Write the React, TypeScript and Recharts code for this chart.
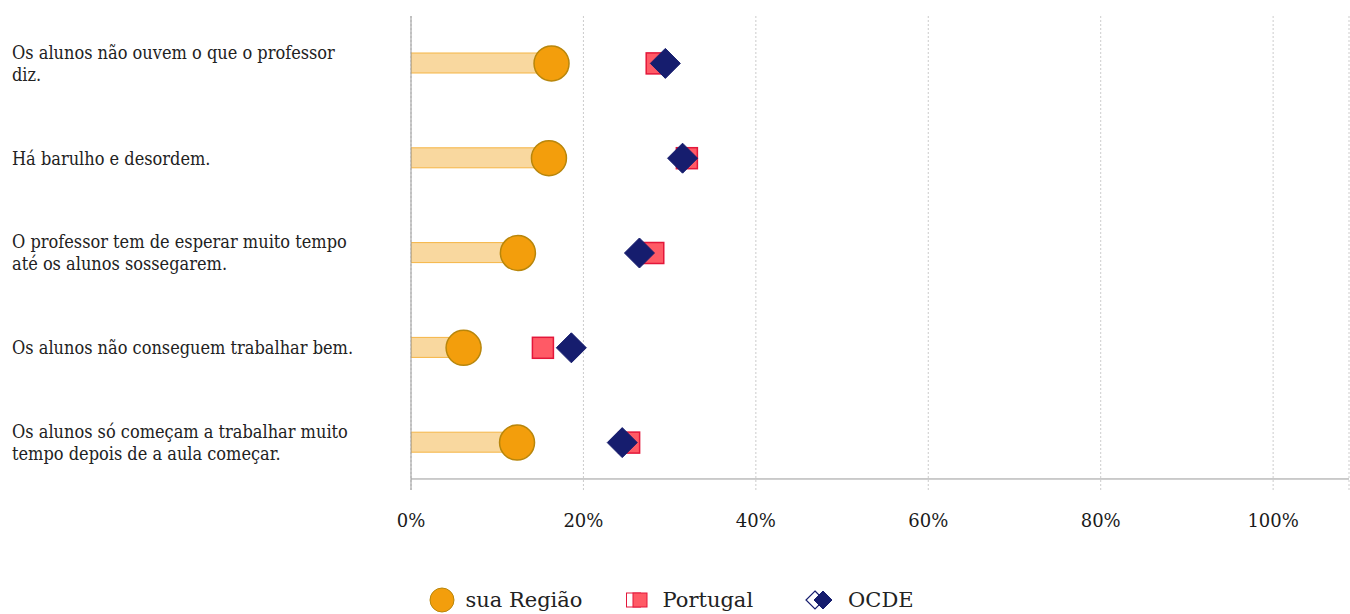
import React from "react";
import {
  ComposedChart,
  Bar,
  Line,
  XAxis,
  YAxis,
  CartesianGrid,
  ReferenceLine,
  Legend,
} from "recharts";

const categories = [
  "Os alunos não ouvem o que o professor\ndiz.",
  "Há barulho e desordem.",
  "O professor tem de esperar muito tempo\naté os alunos sossegarem.",
  "Os alunos não conseguem trabalhar bem.",
  "Os alunos só começam a trabalhar muito\ntempo depois de a aula começar.",
];
const regiao = [16.3, 16.0, 12.4, 6.1, 12.3];
const portugal = [28.5, 32.0, 28.1, 15.3, 25.3];
const ocde = [29.5, 31.5, 26.5, 18.6, 24.5];
const xTicks = [0, 20, 40, 60, 80, 100];
const seriesNames = ["sua Região", "Portugal", "OCDE"];

const data = categories.map((label, i) => ({
  label,
  regiao: regiao[i],
  portugal: portugal[i],
  ocde: ocde[i],
}));

const FONT = "'DejaVu Serif', serif";
const LABEL_FONT = "'DejaVu Serif Condensed', 'DejaVu Serif', serif";
const ORANGE = "#f39e0c";
const ORANGE_STROKE = "#b8860b";
const RED = "#ff5a66";
const RED_STROKE = "#e3173a";
const NAVY = "#161d6e";
const LABEL_X = 12;

const CatTick = (props: any) => {
  const { y, payload } = props;
  const lines = String(payload.value).split("\n");
  const n = lines.length;
  return (
    <text
      x={LABEL_X}
      y={y}
      fill="#222"
      fontSize={18}
      fontFamily={LABEL_FONT}
      style={{ fontStretch: "condensed" }}
      textAnchor="start"
    >
      {lines.map((l, i) => (
        <tspan key={i} x={LABEL_X} y={y + (i - (n - 1) / 2) * 22} dy="0.35em">
          {l}
        </tspan>
      ))}
    </text>
  );
};

const circleDot = (p: any) => (
  <circle
    key={`c-${p.index}`}
    cx={p.cx}
    cy={p.cy}
    r={17.5}
    fill={ORANGE}
    stroke={ORANGE_STROKE}
    strokeWidth={1.5}
  />
);
const squareDot = (p: any) => (
  <rect
    key={`s-${p.index}`}
    x={p.cx - 10.5}
    y={p.cy - 10.5}
    width={21}
    height={21}
    fill={RED}
    stroke={RED_STROKE}
    strokeWidth={1.5}
  />
);
const diamondDot = (p: any) => (
  <polygon
    key={`d-${p.index}`}
    points={`${p.cx},${p.cy - 15} ${p.cx + 15},${p.cy} ${p.cx},${p.cy + 15} ${p.cx - 15},${p.cy}`}
    fill={NAVY}
    stroke={NAVY}
    strokeWidth={1}
  />
);

const LegendContent = () => (
  <div
    style={{
      height: 28,
      display: "flex",
      alignItems: "center",
      justifyContent: "center",
      fontFamily: FONT,
      fontSize: 21,
      color: "#222",
      marginLeft: -6,
    }}
  >
    <svg width={26} height={26} style={{ marginRight: 10 }}>
      <circle cx={13} cy={13} r={12} fill={ORANGE} stroke={ORANGE_STROKE} strokeWidth={1} />
    </svg>
    <span>{seriesNames[0]}</span>
    <svg width={24} height={20} style={{ marginLeft: 42, marginRight: 14 }}>
      <rect x={1.5} y={3} width={14} height={14} fill="#fff" stroke={RED_STROKE} strokeWidth={1} />
      <rect x={8} y={3} width={14} height={14} fill={RED} stroke={RED_STROKE} strokeWidth={1} />
    </svg>
    <span>{seriesNames[1]}</span>
    <svg width={30} height={22} style={{ marginLeft: 52, marginRight: 13 }}>
      <polygon points="10,2 19,11 10,20 1,11" fill="#fff" stroke={NAVY} strokeWidth={1.2} />
      <polygon points="18,2 27,11 18,20 9,11" fill={NAVY} stroke={NAVY} strokeWidth={1} />
    </svg>
    <span>{seriesNames[2]}</span>
  </div>
);

export default function App() {
  return (
    <div
      style={{
        position: "absolute",
        left: 0,
        top: 0,
        width: 1350,
        height: 614,
        fontFamily: FONT,
        background: "#fff",
      }}
    >
      <ComposedChart
        width={1350}
        height={614}
        layout="vertical"
        data={data}
        margin={{ top: 16, right: 1, bottom: 0, left: 0 }}
      >
        <CartesianGrid horizontal={false} stroke="#cccccc" strokeDasharray="2 2" />
        <XAxis
          type="number"
          domain={[0, 108.8]}
          allowDataOverflow
          ticks={xTicks}
          tickFormatter={(v: number) => `${v}%`}
          axisLine={false}
          tickLine={false}
          tickMargin={18}
          height={96}
          tick={{ fontSize: 18, fill: "#1a1a1a", fontFamily: FONT }}
        />
        <YAxis
          type="category"
          dataKey="label"
          width={411}
          axisLine={{ stroke: "#999999" }}
          tickLine={false}
          interval={0}
          tick={<CatTick />}
        />
        <YAxis yAxisId="r" type="number" hide />
        <ReferenceLine yAxisId="r" y={3.907} stroke="#999999" strokeWidth={1} />
        <Bar
          dataKey="regiao"
          barSize={20}
          fill="#f9d89f"
          stroke="#f5b544"
          strokeWidth={1}
          isAnimationActive={false}
        />
        <Line
          dataKey="regiao"
          stroke="none"
          dot={circleDot}
          activeDot={false}
          isAnimationActive={false}
        />
        <Line
          dataKey="portugal"
          stroke="none"
          dot={squareDot}
          activeDot={false}
          isAnimationActive={false}
        />
        <Line
          dataKey="ocde"
          stroke="none"
          dot={diamondDot}
          activeDot={false}
          isAnimationActive={false}
        />
        <Legend verticalAlign="bottom" content={<LegendContent />} />
      </ComposedChart>
    </div>
  );
}
